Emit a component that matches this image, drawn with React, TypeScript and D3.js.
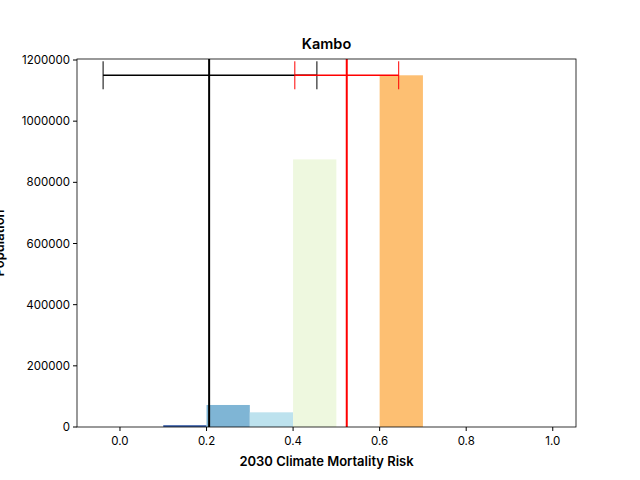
import * as d3 from 'd3';

const binStarts = [0.1, 0.2, 0.3, 0.4, 0.6];
const binValues = [6000, 72000, 48000, 875000, 1150000];
const binColors = ['#3a5fa8', '#7fb5d5', '#bde2ee', '#eef8df', '#fdbf72'];
const yTicks = [0, 200000, 400000, 600000, 800000, 1000000, 1200000];
const xTicks = [0, 0.2, 0.4, 0.6, 0.8, 1.0];
const blackLine = { mean: 0.206, lo: -0.039, hi: 0.455, y: 1150000 };
const redLine = { mean: 0.524, lo: 0.404, hi: 0.644, y: 1150000 };

export default function App() {
  const W = 640, H = 480;
  const L = 77, R = 576, T = 59, B = 427;
  const x = d3.scaleLinear().domain([-0.0993, 1.0537]).range([L, R]);
  const y = d3.scaleLinear().domain([0, 1200000]).range([B, T + 1]);
  const font = 'Inter, "DejaVu Sans", sans-serif';
  const cap = (y(blackLine.y) - 14);
  const err = (e: typeof blackLine, c: string) => (
    <g stroke={c} strokeWidth={1.5}>
      <line x1={x(e.lo)} x2={x(e.hi)} y1={y(e.y)} y2={y(e.y)} />
      <line x1={x(e.lo)} x2={x(e.lo)} y1={cap} y2={cap + 28} strokeWidth={1} />
      <line x1={x(e.hi)} x2={x(e.hi)} y1={cap} y2={cap + 28} strokeWidth={1} />
      <line x1={x(e.mean)} x2={x(e.mean)} y1={T} y2={B} strokeWidth={2} />
    </g>
  );
  return (
    <svg width={W} height={H} style={{ position: 'absolute', left: 0, top: 0, background: '#fff' }} fontFamily={font}>
      {binStarts.map((s, i) => (
        <rect key={i} x={x(s)} width={x(s + 0.1) - x(s)} y={y(binValues[i])} height={B - y(binValues[i])} fill={binColors[i]} />
      ))}
      {err(blackLine, '#000')}
      {err(redLine, '#ff0000')}
      <rect x={L} y={T} width={R - L} height={B - T} fill="none" stroke="#000" strokeWidth={0.8} />
      {yTicks.map(t => (
        <g key={t}>
          <line x1={L - 4} x2={L} y1={y(t)} y2={y(t)} stroke="#000" />
          <text x={L - 7} y={y(t) + 4} textAnchor="end" fontSize={11.5}>{t}</text>
        </g>
      ))}
      {xTicks.map(t => (
        <g key={t}>
          <line x1={x(t)} x2={x(t)} y1={B} y2={B + 4} stroke="#000" />
          <text x={x(t)} y={B + 18} textAnchor="middle" fontSize={11.5}>{t.toFixed(1)}</text>
        </g>
      ))}
      <text x={(L + R) / 2} y={466} textAnchor="middle" fontSize={13} fontWeight={600}>2030 Climate Mortality Risk</text>
      <text transform={`translate(4,243) rotate(-90)`} textAnchor="middle" fontSize={13} fontWeight={600}>Population</text>
      <text x={(L + R) / 2} y={49} textAnchor="middle" fontSize={14.5} fontWeight={600}>Kambo</text>
    </svg>
  );
}
